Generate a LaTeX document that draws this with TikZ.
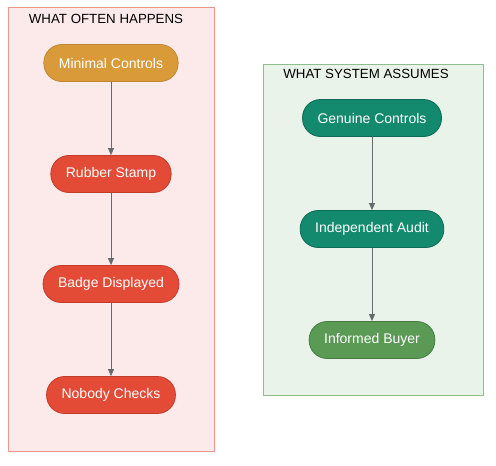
\documentclass[tikz,border=0pt]{standalone}
\usepackage{fontspec}
\setmainfont{Liberation Sans}
\usetikzlibrary{arrows.meta}
\definecolor{pinkbg}{HTML}{FCEAEA}
\definecolor{pinkln}{HTML}{EE968C}
\definecolor{greenbg}{HTML}{E9F3E9}
\definecolor{greenln}{HTML}{8DBF8C}
\definecolor{orangefill}{HTML}{D99B3A}
\definecolor{orangeln}{HTML}{C08632}
\definecolor{redfill}{HTML}{E34B36}
\definecolor{redln}{HTML}{C23C2B}
\definecolor{tealfill}{HTML}{138A6E}
\definecolor{tealln}{HTML}{0D6B55}
\definecolor{leaffill}{HTML}{5A9A55}
\definecolor{leafln}{HTML}{467C43}
\definecolor{arrowgray}{HTML}{666A70}
\begin{document}
\begin{tikzpicture}[x=1pt,y=-1pt,line join=bevel]
  \tikzstyle{pill}=[rectangle,rounded corners=18pt,minimum height=37pt,inner xsep=15pt,
    text=white,font=\fontsize{14}{16}\selectfont,line width=0.8pt]
  \tikzstyle{title}=[font=\fontsize{13.3}{15}\selectfont,text=black]
  \tikzstyle{flow}=[-{Triangle[length=7pt,width=6pt]},arrowgray,line width=0.8pt]
  \useasboundingbox (0,0) rectangle (496,466);

  % left group
  \draw[fill=pinkbg,draw=pinkln,line width=0.8pt] (8,7) rectangle (214,451);
  \node[title] (L_t) at (106,19) {WHAT OFTEN HAPPENS};
  \node[pill,fill=orangefill,draw=orangeln] (L_1) at (111,63)  {Minimal Controls};
  \node[pill,fill=redfill,draw=redln]       (L_2) at (111,174) {Rubber Stamp};
  \node[pill,fill=redfill,draw=redln]       (L_3) at (111,284) {Badge Displayed};
  \node[pill,fill=redfill,draw=redln]       (L_4) at (111,395) {Nobody Checks};
  \path (L_1) edge [flow] (L_2)
        (L_2) edge [flow] (L_3)
        (L_3) edge [flow] (L_4);

  % right group
  \draw[fill=greenbg,draw=greenln,line width=0.8pt] (263,64) rectangle (483,395);
  \node[title] (R_t) at (366,74) {WHAT SYSTEM ASSUMES};
  \node[pill,fill=tealfill,draw=tealln] (R_1) at (372,118) {Genuine Controls};
  \node[pill,fill=tealfill,draw=tealln] (R_2) at (372,229) {Independent Audit};
  \node[pill,fill=leaffill,draw=leafln] (R_3) at (372,340) {Informed Buyer};
  \path (R_1) edge [flow] (R_2)
        (R_2) edge [flow] (R_3);
\end{tikzpicture}
\end{document}
